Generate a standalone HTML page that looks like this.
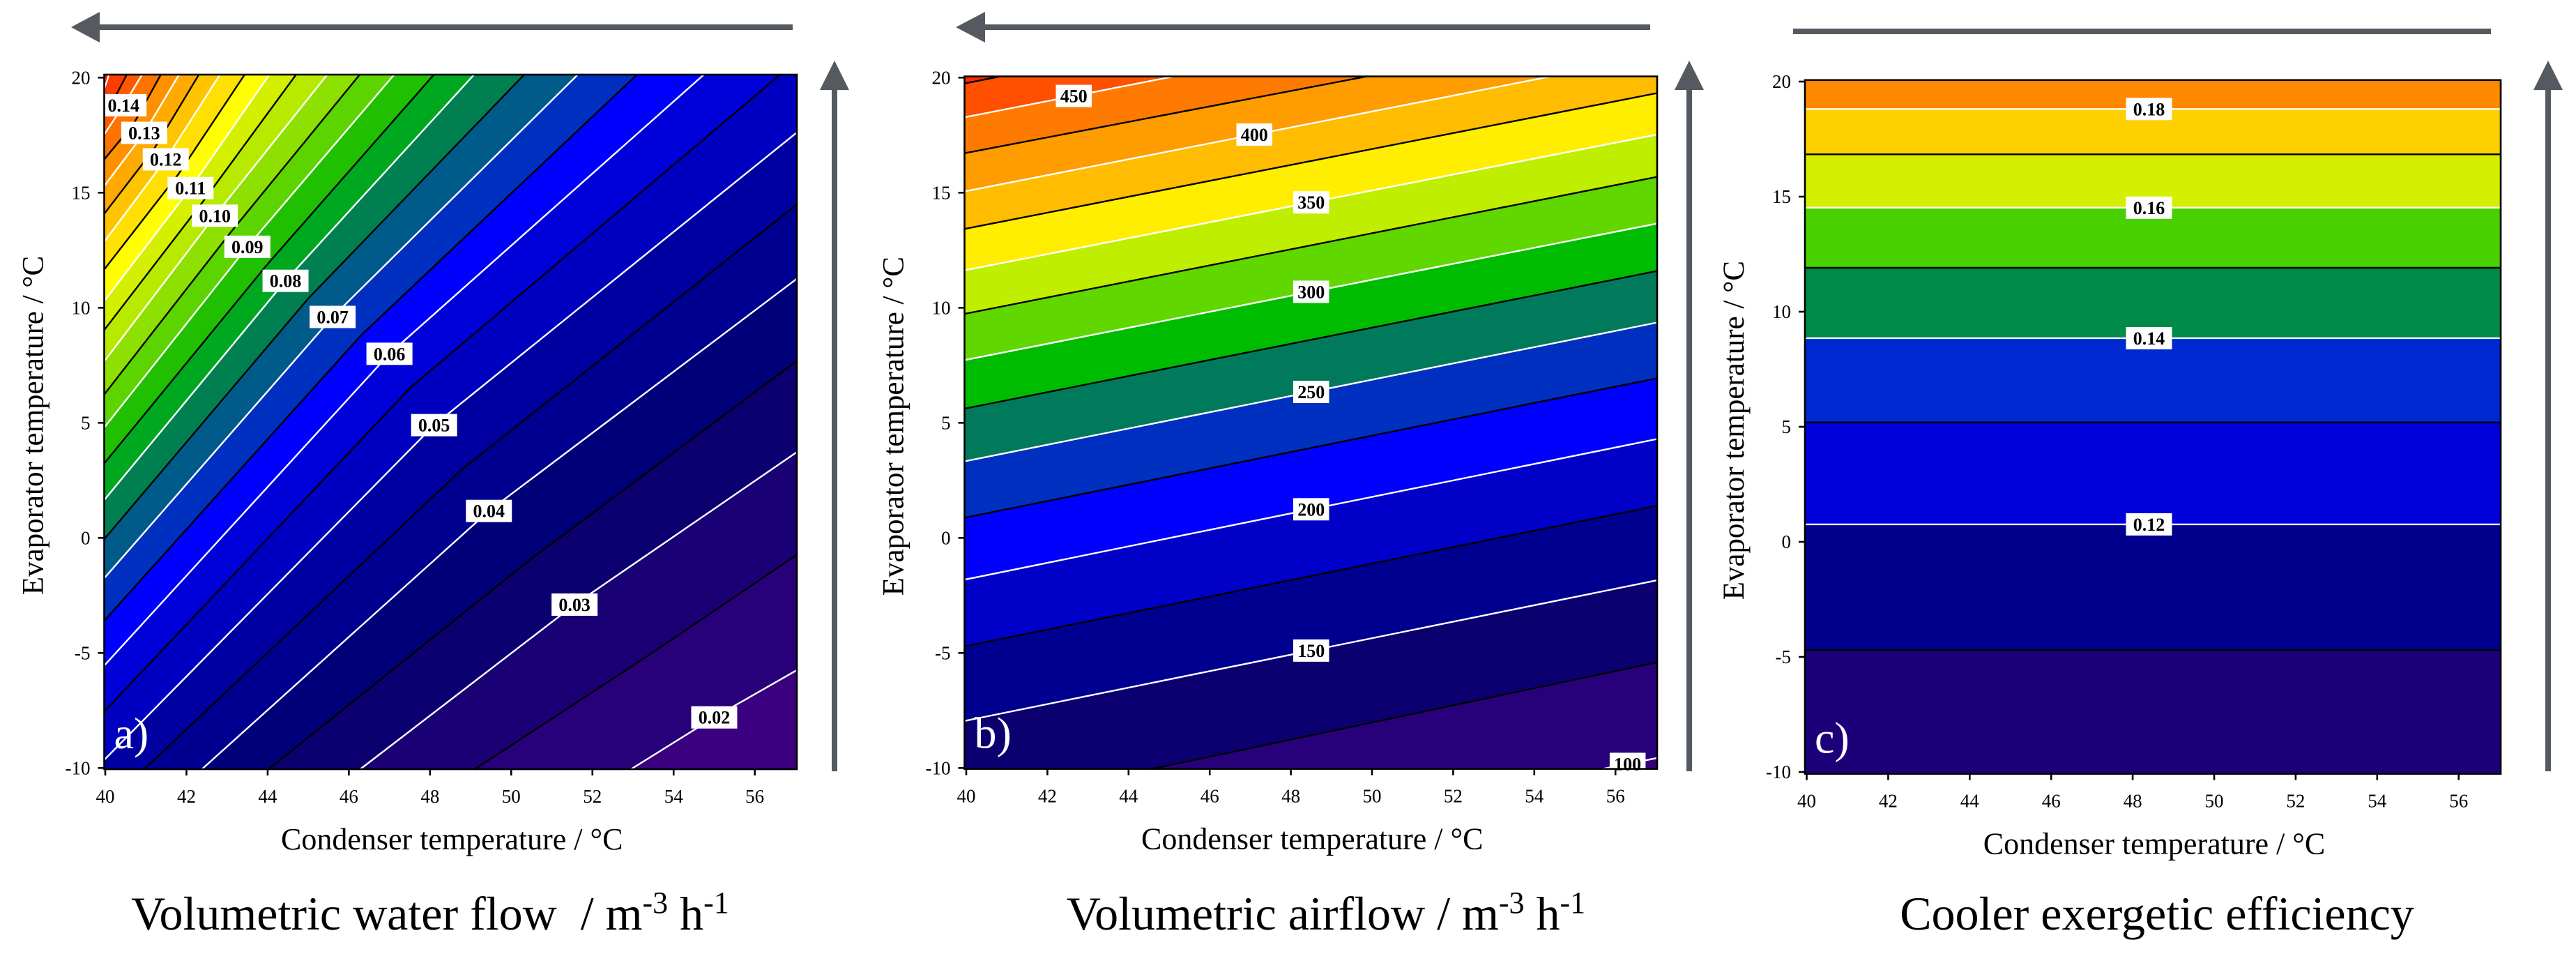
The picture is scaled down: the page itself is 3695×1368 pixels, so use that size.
<!DOCTYPE html>
<html><head><meta charset="utf-8">
<style>
html,body{margin:0;padding:0;background:#fff;width:3695px;height:1368px;overflow:hidden;}
svg{display:block;}
text{font-family:"Liberation Serif","DejaVu Serif",serif;}
</style></head>
<body>
<svg id="fig" width="3695" height="1368" viewBox="0 0 3695 1368" xmlns="http://www.w3.org/2000/svg">
<g fill="#555a60" stroke="none">
 <rect x="140" y="35" width="997" height="8"/>
 <polygon points="102,39 143,17 143,61"/>
 <rect x="1193" y="125" width="8" height="981"/>
 <polygon points="1197,87 1176,129 1218,129"/>
 <rect x="1410" y="35" width="957" height="8"/>
 <polygon points="1371,39 1413,17 1413,61"/>
 <rect x="2419" y="125" width="8" height="981"/>
 <polygon points="2423,87 2402,129 2444,129"/>
 <rect x="2572" y="41" width="1001" height="8"/>
 <rect x="3651" y="125" width="8" height="981"/>
 <polygon points="3655,87 3634,129 3676,129"/>
</g>
<g id="panels"></g>
</svg>
<script>
// ---------- Panel a data: volumetric water flow ----------
const levelsA = [0.02,0.025,0.03,0.035,0.04,0.045,0.05,0.055,0.06,0.065,0.07,0.075,0.08,0.085,0.09,0.095,0.10,0.105,0.11,0.115,0.12,0.125,0.13,0.135,0.14,0.145,0.15];
const lineTcA = [
 [52.95,55.0,57.08],[49.1,53.3,57.08],[46.28,51.56,57.08],[44.02,50.5,57.08],[42.38,49.45,57.08],
 [40.96,48.8,57.08],[40,48.1,57.08],[40,47.5,56.67],[40,47.0,54.79],[40,46.3,53.14],
 [40,45.6,51.68],[40,45.0,50.36],[40,44.44,49.12],[40,44.0,48.13],[40,43.5,47.15],
 [40,43.1,46.3],[40,42.7,45.5],[40,42.4,44.73],[40,42.1,44.07],[40,41.8,43.46],
 [40,41.49,42.85],[40,41.2,42.33],[40,40.96,41.84],[40,40.7,41.39],[40,40.45,40.93],
 [40,40.3,40.55],[40,40.05,40.1]];
const lineTeA = [
 [-10.05,-7.8,-5.7],[-10.05,-5.2,-0.68],[-10.05,-2.9,3.78],[-10.05,-0.9,7.75],[-10.05,1.17,11.32],
 [-10.05,3.0,14.55],[-9.6,4.9,17.68],[-7.5,6.5,20.2],[-5.5,8.0,20.2],[-3.55,8.8,20.2],
 [-1.7,9.6,20.2],[0.0,10.4,20.2],[1.7,11.17,20.2],[3.29,11.9,20.2],[4.85,12.65,20.2],
 [6.29,13.3,20.2],[7.73,14.0,20.2],[9.09,14.6,20.2],[10.35,15.2,20.2],[11.72,15.8,20.2],
 [12.93,16.45,20.2],[14.14,16.9,20.2],[15.35,17.6,20.2],[16.5,18.0,20.2],[17.6,18.8,20.2],
 [18.7,19.35,20.2],[19.65,19.9,20.2]];
const labelsA = ["0.02","","0.03","","0.04","","0.05","","0.06","","0.07","","0.08","","0.09","","0.10","","0.11","","0.12","","0.13","","0.14","",""];
const whiteA = [1,0,1,0,1,0,1,0,1,0,1,0,1,0,1,0,1,0,1,0,1,0,1,0,1,0,1];
const fillA = ["#28007a","#1a0075","#0c0070","#000078","#000090","#0000a0","#0000c0","#0000d8","#0000ff","#0030c0","#005a8a","#008050","#00a820","#20c000","#5cd400","#8ee000","#b8ea00","#d4f000","#ffff00","#ffe000","#ffc400","#ffaa00","#ff9000","#ff7400","#ff5800","#ff3c00","#ee1c00"];
const baseA = "#3a0080";

// ---------- Panel b data: volumetric airflow ----------
const levelsB = [100,125,150,175,200,225,250,275,300,325,350,375,400,425,450,475];
const teLeftB = [-15.6,-11.74,-7.94,-4.7,-1.8,0.89,3.34,5.63,7.74,9.75,11.64,13.44,15.07,16.73,18.29,19.76];
const teRightB = [-9.52,-5.36,-1.8,1.44,4.34,6.98,9.4,11.64,13.7,15.73,17.57,19.37,21.0,22.5,24.2,25.7];
const labelTcB = [56.3,null,48.5,null,48.5,null,48.5,null,48.5,null,48.5,null,47.1,null,42.65,null];
const fillB = ["#28007a","#0c0070","#000090","#0000c8","#0000ff","#0030c0","#007a5a","#00bc00","#60d800","#c0ee00","#ffee00","#ffbc00","#ff9c00","#ff7a00","#ff5000","#ff2800"];
const baseB = "#380080";

// ---------- Panel c data: cooler exergetic efficiency ----------
const levelsC = [0.11,0.12,0.13,0.14,0.15,0.16,0.17,0.18];
const teC = [-4.70,0.76,5.19,8.85,11.91,14.52,16.84,18.81];
const labelsC = ["","0.12","","0.14","","0.16","","0.18"];
const fillC = ["#00008c","#0000d8","#0028d0","#008a48","#48d000","#d4f000","#ffd000","#ff8800"];
const baseC = "#1c007a";

const xTicks = [40,42,44,46,48,50,52,54,56];
const yTicks = [-10,-5,0,5,10,15,20];

const NS = "http://www.w3.org/2000/svg";
const root = document.getElementById('panels');
function mk(tag, attrs, parent){
  const e = document.createElementNS(NS, tag);
  for (const k in attrs) e.setAttribute(k, attrs[k]);
  (parent||root).appendChild(e);
  return e;
}

const panels = [
 {id:'a', x0:151, kx:58.23, y0:111.3, ky:33.0, L:149.5, R:1143, T:107, B:1103},
 {id:'b', x0:1386, kx:58.2, y0:111.3, ky:33.0, L:1383.5, R:2377, T:109.6, B:1102.6},
 {id:'c', x0:2591.5, kx:58.45, y0:117, ky:33.0, L:2589, R:3587, T:114.8, B:1109.6}
];
function sx(p, tc){ return p.x0 + (tc-40)*p.kx; }
function sy(p, te){ return p.y0 + (20-te)*p.ky; }

// Sutherland-Hodgman polygon clip to rect
function clipPoly(pts, p){
  const edges = [
    [q => q[0] >= p.L, (a,b) => { const t=(p.L-a[0])/(b[0]-a[0]); return [p.L, a[1]+t*(b[1]-a[1])]; }],
    [q => q[0] <= p.R, (a,b) => { const t=(p.R-a[0])/(b[0]-a[0]); return [p.R, a[1]+t*(b[1]-a[1])]; }],
    [q => q[1] >= p.T, (a,b) => { const t=(p.T-a[1])/(b[1]-a[1]); return [a[0]+t*(b[0]-a[0]), p.T]; }],
    [q => q[1] <= p.B, (a,b) => { const t=(p.B-a[1])/(b[1]-a[1]); return [a[0]+t*(b[0]-a[0]), p.B]; }]
  ];
  let out = pts;
  for (const [inside, inter] of edges){
    const inp = out; out = [];
    if (!inp.length) break;
    for (let i=0;i<inp.length;i++){
      const cur = inp[i], prev = inp[(i+inp.length-1)%inp.length];
      if (inside(cur)){
        if (!inside(prev)) out.push(inter(prev,cur));
        out.push(cur);
      } else if (inside(prev)) out.push(inter(prev,cur));
    }
  }
  return out;
}
// Liang-Barsky segment clip
function clipSeg(a, b, p){
  let t0=0, t1=1; const dx=b[0]-a[0], dy=b[1]-a[1];
  const P=[-dx,dx,-dy,dy], Q=[a[0]-p.L, p.R-a[0], a[1]-p.T, p.B-a[1]];
  for (let i=0;i<4;i++){
    if (P[i]===0){ if (Q[i]<0) return null; }
    else { const r=Q[i]/P[i]; if (P[i]<0){ if(r>t1) return null; if(r>t0) t0=r; } else { if(r<t0) return null; if(r<t1) t1=r; } }
  }
  return [[a[0]+t0*dx, a[1]+t0*dy],[a[0]+t1*dx, a[1]+t1*dy]];
}

function extended(p, ln){
  const tc = ln[0], te = ln[1], n = tc.length;
  const s0 = (te[1]-te[0])/((tc[1]-tc[0])||1e-6);
  const s1 = (te[n-1]-te[n-2])/((tc[n-1]-tc[n-2])||1e-6);
  const pts = [[tc[0]-10, te[0]-10*s0]];
  for (let k=0;k<n;k++) pts.push([tc[k], te[k]]);
  pts.push([tc[n-1]+10, te[n-1]+10*s1]);
  return pts;
}

function drawPanel(p, lines, fills, base, whites, labels, labelPts, letter, title, titleX){
  const g = mk('g', {}, root);
  
  
  const cg = mk('g', {}, g);
  
  
  const bg = mk('rect', {x:p.L, y:p.T, width:p.R-p.L, height:p.B-p.T, fill:base}, cg);
  
  
  lines.forEach((ln, i) => {
    const pts = extended(p, ln);
    const last = pts[pts.length-1], first = pts[0];
    pts.push([last[0], 200]); pts.push([0, 200]); pts.push([0, first[1]]);
    const scr = clipPoly(pts.map(q => [sx(p,q[0]), sy(p,q[1])]), p);
    if (scr.length < 3) return;
    const poly = mk('polygon', {points: scr.map(q => q[0].toFixed(1)+','+q[1].toFixed(1)).join(' '), fill: fills[i], stroke: fills[i], 'stroke-width': 0.6}, cg);
    
    
  });
  lines.forEach((ln, i) => {
    const pts = extended(p, ln).map(q => [sx(p,q[0]), sy(p,q[1])]);
    let d = '';
    for (let k=0;k<pts.length-1;k++){
      const s = clipSeg(pts[k], pts[k+1], p);
      if (!s) continue;
      d += 'M' + s[0][0].toFixed(1) + ',' + s[0][1].toFixed(1) + 'L' + s[1][0].toFixed(1) + ',' + s[1][1].toFixed(1);
    }
    if (!d) return;
    const pl = mk('path', {d: d, fill:'none', stroke: whites[i] ? '#ffffff' : '#000000', 'stroke-width': 2.4, 'stroke-linecap':'round'}, cg);
    
    
  });
  labels.forEach((lb, i) => {
    if (!lb) return;
    const cx = sx(p, labelPts[i][0]), cy = sy(p, labelPts[i][1]);
    const w = lb.length * 14.5 + 8;
    const r = mk('rect', {x: cx - w/2, y: cy - 16, width: w, height: 32, fill:'#ffffff'}, g);
    
    
    const t = mk('text', {x: cx, y: cy + 9, 'font-size': 26, 'font-weight': 'bold', 'text-anchor':'middle', fill:'#000'}, g);
    t.textContent = lb;
    
    
  });
  const lt = mk('text', {x: p.L + 14, y: p.B - 30, 'font-size': 64, fill:'#ffffff'}, g);
  lt.textContent = letter;
  
  
  const fr = mk('rect', {x:p.L, y:p.T, width:p.R-p.L, height:p.B-p.T, fill:'none', stroke:'#000', 'stroke-width':2.6}, g);
  
  
  xTicks.forEach(v => {
    const x = sx(p, v);
    const tk = mk('line', {x1:x, y1:p.B, x2:x, y2:p.B+9, stroke:'#000', 'stroke-width':2.6}, g);
    
    
    const t = mk('text', {x:x, y:p.B+48, 'font-size':27, 'text-anchor':'middle', fill:'#000'}, g);
    t.textContent = v;
    
    
  });
  yTicks.forEach(v => {
    const y = sy(p, v);
    const tk = mk('line', {x1:p.L-9, y1:y, x2:p.L, y2:y, stroke:'#000', 'stroke-width':2.6}, g);
    
    
    const t = mk('text', {x:p.L-20, y:y+9, 'font-size':27, 'text-anchor':'end', fill:'#000'}, g);
    t.textContent = v;
    
    
  });
  const xl = mk('text', {x:(p.L+p.R)/2 + 2, y:p.B+115, 'font-size':44, 'text-anchor':'middle', fill:'#000'}, g);
  xl.textContent = 'Condenser temperature / °C';
  
  
  const yx = p.L - 88, yy = (p.T+p.B)/2 + 5;
  const yl = mk('text', {x:yx, y:yy, 'font-size':43, 'text-anchor':'middle', fill:'#000', transform:'rotate(-90 '+yx+' '+yy+')'}, g);
  yl.textContent = 'Evaporator temperature / °C';
  
  
  const tt = mk('text', {x:titleX, y:1333, 'font-size':68, 'text-anchor':'middle', fill:'#000'}, g);
  tt.innerHTML = title;
  
  
}

const linesA = levelsA.map((lv, i) => [lineTcA[i], lineTeA[i]]);
const lblPtsA = levelsA.map((lv, i) => [lineTcA[i][1], lineTeA[i][1]]);
drawPanel(panels[0], linesA, fillA, baseA, whiteA, labelsA, lblPtsA, 'a)',
  'Volumetric water flow &#160;/ m<tspan font-size="44" dy="-24">-3</tspan><tspan dy="24"> h</tspan><tspan font-size="44" dy="-24">-1</tspan>', 617);

const linesB = levelsB.map((lv, i) => [[40, 57.15], [teLeftB[i], teRightB[i]]]);
const whiteB = levelsB.map(lv => (lv % 50 === 0) ? 1 : 0);
const labelsB = levelsB.map((lv, i) => labelTcB[i] === null ? '' : String(lv));
const lblPtsB = levelsB.map((lv, i) => {
  const tc = labelTcB[i] === null ? 48 : labelTcB[i];
  return [tc, teLeftB[i] + (teRightB[i]-teLeftB[i])*(tc-40)/17.15];
});
drawPanel(panels[1], linesB, fillB, baseB, whiteB, labelsB, lblPtsB, 'b)',
  'Volumetric airflow / m<tspan font-size="44" dy="-24">-3</tspan><tspan dy="24"> h</tspan><tspan font-size="44" dy="-24">-1</tspan>', 1902);

const linesC = levelsC.map((lv, i) => [[40, 57.1], [teC[i], teC[i]]]);
const whiteC = labelsC.map(l => l ? 1 : 0);
const lblPtsC = levelsC.map((lv, i) => [48.4, teC[i]]);
drawPanel(panels[2], linesC, fillC, baseC, whiteC, labelsC, lblPtsC, 'c)',
  'Cooler exergetic efficiency', 3094);
</script>
</body></html>
